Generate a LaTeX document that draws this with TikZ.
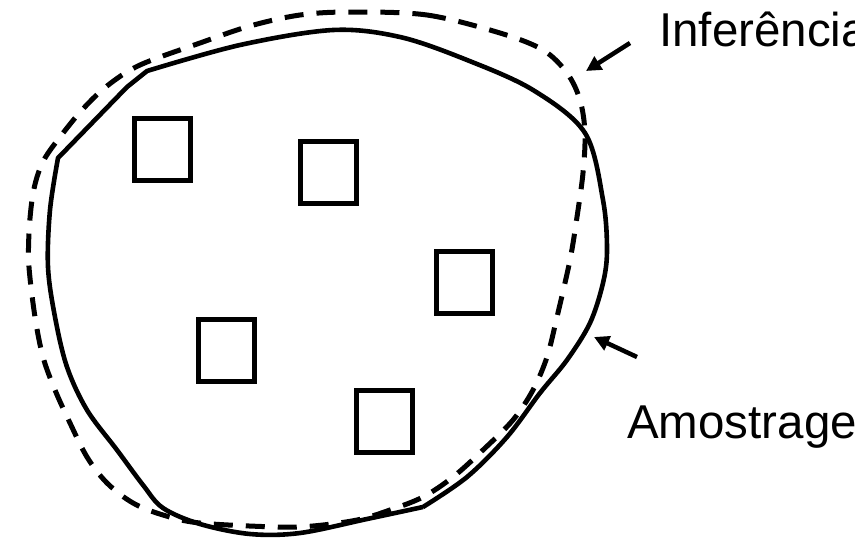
\documentclass[tikz,border=0pt]{standalone}
\usepackage{fontspec}
\setmainfont{Liberation Sans}
\usetikzlibrary{arrows.meta}
\begin{document}
\begin{tikzpicture}[x=1pt,y=-1pt,
  boxnode/.style={draw,line width=5pt,minimum width=56pt,minimum height=62pt,inner sep=0pt},
  outline/.style={line width=4.6pt,line join=round},
  dashline/.style={line width=5pt,dash pattern=on 19pt off 13pt},
  pointer/.style={line width=4.5pt,-{Triangle[length=15pt,width=15pt]}},
  label/.style={anchor=base west,inner sep=0pt,font=\fontsize{47.5}{52}\selectfont}]
\useasboundingbox (0,0) rectangle (855,539);
% solid outline
\draw[outline] plot[smooth,tension=0.55] coordinates {(423,507) (367,519) (300,533) (250,534) (200,524) (163,508) (143,485) (117,450) (87,410) (67,367) (55,317) (48,267) (50,210) (58,158)}
  -- (127,87) -- (147,71)
  -- plot[smooth,tension=0.55] coordinates {(147,71) (240,45) (333,30) (400,37) (467,60) (533,90) (585,133) (603,200) (607,250) (603,283) (590,323) (567,360) (540,393) (507,437) (467,477) (423,507)};
% dashed outline
\draw[dashline] plot[smooth cycle,tension=0.55] coordinates {(350,12) (427,15) (500,33) (543,50) (567,73) (580,100) (585,133) (583,173) (577,217) (570,260) (557,317) (547,357) (533,390) (513,420) (483,450) (453,477) (423,497) (390,510) (357,520) (313,526) (277,527) (200,523) (163,515) (133,503) (107,483) (87,457) (70,423) (55,390) (43,357) (35,317) (29,267) (29,233) (32,200) (37,177) (45,158) (60,137) (82,110) (107,86) (140,65) (200,43) (250,26) (300,15)};
% squares
\node[boxnode] (b1) at (162,149.5) {};
\node[boxnode] (b2) at (328.5,172) {};
\node[boxnode] (b3) at (464,282.5) {};
\node[boxnode] (b4) at (384.5,421) {};
\node[boxnode] (b5) at (226,350.5) {};
% labels
\node[label] (inf) at (659,46) {Inferência};
\node[label] (amo) at (627,438) {Amostragem};
% arrows
\coordinate (a1s) at (630,43);
\coordinate (a1e) at (586,71);
\coordinate (a2s) at (637,357);
\coordinate (a2e) at (594,337);
\draw[pointer] (a1s) -- (a1e);
\draw[pointer] (a2s) -- (a2e);
\end{tikzpicture}
\end{document}
